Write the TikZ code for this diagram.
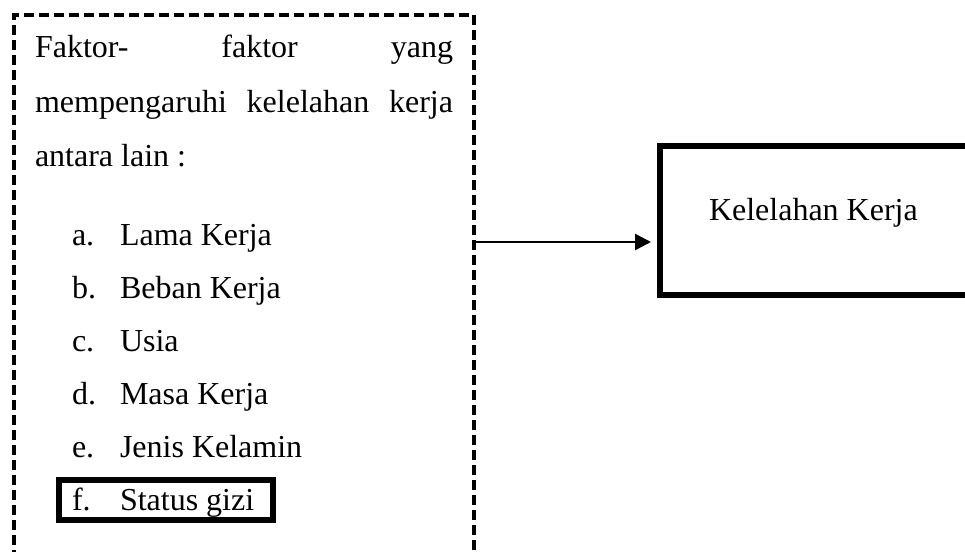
\documentclass[tikz,border=0pt]{standalone}
\usepackage{fontspec}
\setmainfont{Liberation Serif}
\usetikzlibrary{arrows.meta}
\begin{document}
\begin{tikzpicture}[x=1pt,y=-1pt,
  txt/.style={inner sep=0pt, outer sep=0pt, anchor=base west, font=\fontsize{32}{38}\selectfont},
  dashbox/.style={draw, line width=3.5pt, dash pattern=on 10pt off 5pt, rectangle, inner sep=0pt, outer sep=0pt, anchor=north west},
  solidbox/.style={draw, line width=6pt, rectangle, inner sep=0pt, outer sep=0pt, anchor=north west},
  conn/.style={line width=2.5pt, line cap=round, -{Triangle[length=16pt,width=16pt]}}]
\useasboundingbox (0,0) rectangle (965,551);
\clip (0,0) rectangle (965,551);
% boxes
\node[dashbox, minimum width=460pt, minimum height=600pt] (factors) at (14,15) {};
\node[solidbox, minimum width=360pt, minimum height=149pt] (result) at (660,146) {};
\node[solidbox, minimum width=214pt, minimum height=40pt] (fbox) at (59,480) {};
% paragraph
\node[txt] (l1) at (35,57) {\makebox[418pt][s]{Faktor- faktor yang}};
\node[txt] (l2) at (35,112) {\makebox[418pt][s]{mempengaruhi kelelahan kerja}};
\node[txt] (l3) at (35,166) {antara lain :};
% list
\node[txt] (ia) at (72,245) {a.};
\node[txt] (ta) at (120,245) {Lama Kerja};
\node[txt] (ib) at (72,298) {b.};
\node[txt] (tb) at (120,298) {Beban Kerja};
\node[txt] (ic) at (72,351) {c.};
\node[txt] (tc) at (120,351) {Usia};
\node[txt] (id) at (72,404) {d.};
\node[txt] (td) at (120,404) {Masa Kerja};
\node[txt] (ie) at (72,457) {e.};
\node[txt] (te) at (120,457) {Jenis Kelamin};
\node[txt] (if) at (72,510) {f.};
\node[txt] (tf) at (120,510) {Status gizi};
% result text
\node[txt] (rt) at (709,220) {Kelelahan Kerja};
% connector
\coordinate (arrowy) at (0,242);
\draw[conn, shorten >=9pt] (factors.north east |- arrowy) -- (result.west |- arrowy);
\end{tikzpicture}
\end{document}
